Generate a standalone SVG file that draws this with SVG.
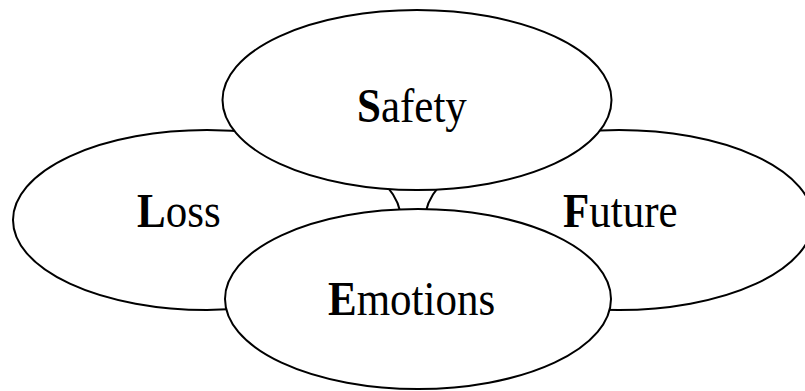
<svg xmlns="http://www.w3.org/2000/svg" width="805" height="391" viewBox="0 0 805 391">
<style>
.node{fill:#fff;stroke:#000;stroke-width:2}
.lbl{font-family:"Liberation Serif","Times New Roman",serif;font-size:43px;fill:#000}
.b{font-weight:bold}
</style>
<rect width="805" height="391" fill="#fff"/>
<g id="connectors"></g>
<g id="loss">
<ellipse class="node" cx="207" cy="220" rx="194" ry="90"/>
<text class="lbl" transform="translate(137,227) scale(1,1.12)"><tspan class="b">L</tspan>oss</text>
</g>
<g id="future">
<ellipse class="node" cx="619" cy="220" rx="194" ry="90"/>
<text class="lbl" transform="translate(563,227) scale(1,1.12)"><tspan class="b">F</tspan>uture</text>
</g>
<g id="safety">
<ellipse class="node" cx="417" cy="100" rx="194.5" ry="90"/>
<text class="lbl" transform="translate(357,122) scale(1,1.12)"><tspan class="b">S</tspan>afety</text>
</g>
<g id="emotions">
<ellipse class="node" cx="418" cy="299" rx="193" ry="90"/>
<text class="lbl" transform="translate(328,315) scale(1,1.12)"><tspan class="b">E</tspan>motions</text>
</g>
</svg>
